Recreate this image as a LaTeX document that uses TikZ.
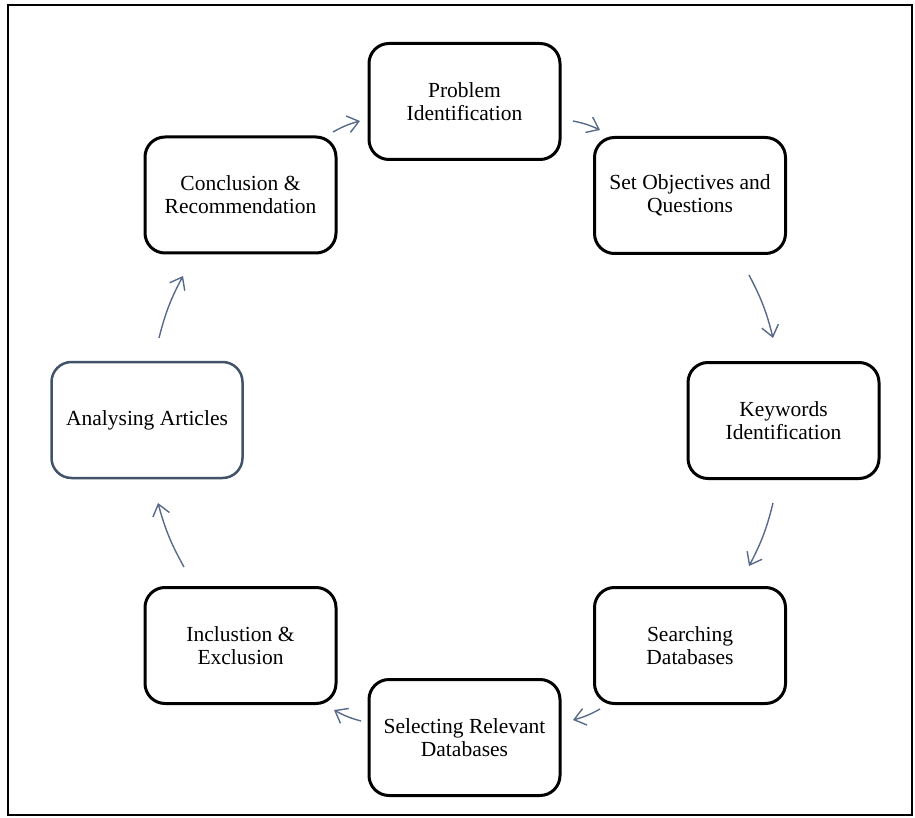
\documentclass[tikz,border=0pt]{standalone}
\usepackage{fontspec}
\setmainfont{Liberation Serif}
\usetikzlibrary{arrows.meta}
\definecolor{arrowc}{RGB}{88,106,138}
\definecolor{slate}{RGB}{66,82,104}
\begin{document}
\begin{tikzpicture}[x=1pt,y=-1pt,
  stepbox/.style={draw=black, line width=3pt, rounded corners=20pt,
    minimum width=191pt, minimum height=116pt, align=center,
    font=\fontsize{21.5}{23}\selectfont, fill=white, inner sep=2pt},
  flow/.style={draw=arrowc, line width=1.4pt,
    -{Straight Barb[length=11pt,width=17pt,line width=1.4pt]}, bend left=7}]
\useasboundingbox (0,0) rectangle (915,818);
\draw[line width=2.2pt] (8,5) rectangle (912,815);

\node[stepbox] (prob)   at (464.5,101.5) {Problem\\Identification};
\node[stepbox] (obj)    at (690,195.5)   {Set Objectives and\\Questions};
\node[stepbox] (key)    at (783.5,420.5) {Keywords\\Identification};
\node[stepbox] (search) at (690,645.5)   {Searching\\Databases};
\node[stepbox] (select) at (464.5,737.5) {Selecting Relevant\\Databases};
\node[stepbox] (incl)   at (240.5,645.5) {Inclustion \&\\Exclusion};
\node[stepbox, draw=slate, line width=2.5pt] (anal) at (147,420) {Analysing Articles};
\node[stepbox] (conc)   at (240.5,195)   {Conclusion \&\\Recommendation};

\coordinate (a1s) at (333,132); \coordinate (a1e) at (360,121);
\coordinate (a2s) at (573,121); \coordinate (a2e) at (600,130);
\coordinate (a3s) at (749,275); \coordinate (a3e) at (773,338);
\coordinate (a4s) at (773,503); \coordinate (a4e) at (749,566);
\coordinate (a5s) at (600,709); \coordinate (a5e) at (573,720);
\coordinate (a6s) at (361,721); \coordinate (a6e) at (334,710);
\coordinate (a7s) at (184,567); \coordinate (a7e) at (158,503);
\coordinate (a8s) at (159,338); \coordinate (a8e) at (183,276);

\draw[flow] (a1s) to (a1e);
\draw[flow] (a2s) to (a2e);
\draw[flow] (a3s) to (a3e);
\draw[flow] (a4s) to (a4e);
\draw[flow] (a5s) to (a5e);
\draw[flow] (a6s) to (a6e);
\draw[flow] (a7s) to (a7e);
\draw[flow] (a8s) to (a8e);
\end{tikzpicture}
\end{document}
